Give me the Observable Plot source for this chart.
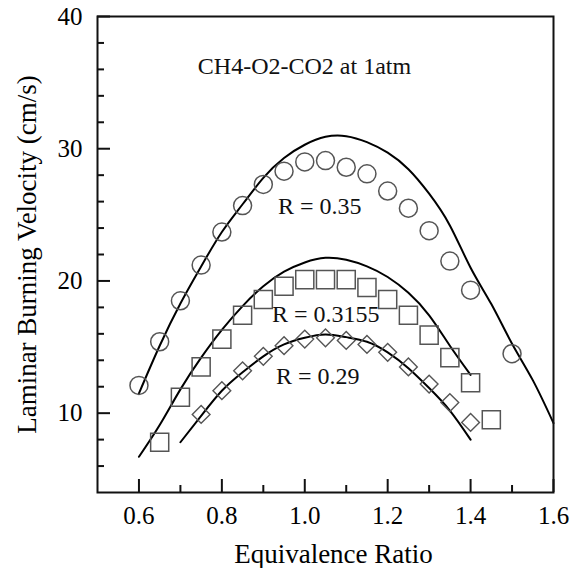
<!DOCTYPE html>
<html>
<head>
<meta charset="utf-8">
<script src="https://cdn.jsdelivr.net/npm/d3@7"></script>
<script src="https://cdn.jsdelivr.net/npm/@observablehq/plot@0.6"></script>
<style>
  html, body { margin: 0; padding: 0; background: #fff; }
  #chart svg { display: block; }
</style>
</head>
<body>
<div id="chart"></div>
<script>
// Measured points (equivalence ratio vs laminar burning velocity, cm/s)
const circleX = [0.6,0.65,0.7,0.75,0.8,0.85,0.9,0.95,1.0,1.05,1.1,1.15,1.2,1.25,1.3,1.35,1.4,1.5];
const circleY = [12.1,15.4,18.5,21.2,23.7,25.7,27.3,28.3,29.0,29.1,28.6,28.1,26.8,25.5,23.8,21.5,19.3,14.5];

const squareX = [0.65,0.7,0.75,0.8,0.85,0.9,0.95,1.0,1.05,1.1,1.15,1.2,1.25,1.3,1.35,1.4,1.45];
const squareY = [7.8,11.2,13.5,15.6,17.4,18.6,19.6,20.1,20.1,20.1,19.5,18.6,17.4,15.9,14.2,12.3,9.5];

const diamondX = [0.75,0.8,0.85,0.9,0.95,1.0,1.05,1.1,1.15,1.2,1.25,1.3,1.35,1.4];
const diamondY = [9.9,11.7,13.2,14.3,15.1,15.6,15.7,15.5,15.2,14.6,13.5,12.2,10.8,9.3];

// Computed curves
const line35X = [0.6,0.65,0.7,0.75,0.8,0.85,0.9,0.95,1.0,1.05,1.1,1.15,1.2,1.25,1.3,1.35,1.4,1.45,1.5,1.55,1.6];
const line35Y = [11.5,15.1,18.3,21.1,23.7,25.8,27.8,29.3,30.3,30.9,30.95,30.5,29.7,28.45,26.6,24.2,21.0,18.25,15.25,12.5,9.25];

const line3155X = [0.6,0.65,0.7,0.75,0.8,0.85,0.9,0.95,1.0,1.05,1.1,1.15,1.2,1.25,1.3,1.35,1.4];
const line3155Y = [6.7,9.1,11.8,14.2,16.3,18.1,19.6,20.7,21.4,21.75,21.6,21.1,20.3,19.1,17.4,15.1,12.9];

const line29X = [0.7,0.75,0.8,0.85,0.9,0.95,1.0,1.05,1.1,1.15,1.2,1.25,1.3,1.35,1.4];
const line29Y = [7.8,9.8,11.7,13.1,14.3,15.2,15.7,15.95,15.75,15.4,14.6,13.4,11.9,10.2,8.0];

// Axis ticks
const xMajor = [0.6,0.8,1.0,1.2,1.4,1.6];
const xMinor = [0.7,0.9,1.1,1.3,1.5];
const yMajor = [10,20,30,40];
const yMinor = [6,8,12,14,16,18,22,24,26,28,32,34,36,38];

// Text
const annotations = [
  {x: 0.742, y: 35.68, text: "CH4-O2-CO2 at 1atm"},
  {x: 0.9355, y: 25.08, text: "R = 0.35"},
  {x: 0.921, y: 16.89, text: "R = 0.3155"},
  {x: 0.9307, y: 12.2, text: "R = 0.29"}
];
const xTitle = "Equivalence Ratio";
const yTitle = "Laminar Burning Velocity (cm/s)";

const zip = (xs, ys) => xs.map((x, i) => ({x, y: ys[i]}));

const W = 577, H = 568;
const mL = 97, mR = 24, mT = 16, mB = 76;
const plotW = W - mL - mR, plotH = H - mT - mB;
const font = "'Liberation Serif', 'Times New Roman', Times, serif";
const markerStroke = "#555";
const tickStyle = {stroke: "#111", strokeWidth: 2};

const chart = Plot.plot({
  width: W,
  height: H,
  marginLeft: mL,
  marginRight: mR,
  marginTop: mT,
  marginBottom: mB,
  style: {fontFamily: font},
  x: {domain: [0.5, 1.6]},
  y: {domain: [4, 40]},
  marks: [
    // tick labels
    Plot.axisX(xMajor, {anchor: "bottom", tickSize: 0, tickPadding: 14, tickFormat: d3.format(".1f"), fontSize: 25, label: null, fill: "#000"}),
    Plot.axisY(yMajor, {anchor: "left", tickSize: 0, tickPadding: 15, tickFormat: d3.format("d"), fontSize: 25, label: null, fill: "#000"}),
    // curves
    Plot.line(zip(line35X, line35Y), {x: "x", y: "y", curve: "natural", stroke: "#000", strokeWidth: 2}),
    Plot.line(zip(line3155X, line3155Y), {x: "x", y: "y", curve: "natural", stroke: "#000", strokeWidth: 2}),
    Plot.line(zip(line29X, line29Y), {x: "x", y: "y", curve: "natural", stroke: "#000", strokeWidth: 2}),
    // measured points
    Plot.dot(zip(circleX, circleY), {x: "x", y: "y", symbol: "circle", r: 9, stroke: markerStroke, strokeWidth: 1.5, fill: "none"}),
    Plot.dot(zip(squareX, squareY), {x: "x", y: "y", symbol: "square", r: 10.2, stroke: markerStroke, strokeWidth: 1.5, fill: "none"}),
    Plot.dot(zip(diamondX, diamondY), {x: "x", y: "y", symbol: "diamond2", r: 8, stroke: markerStroke, strokeWidth: 1.4, fill: "none"}),
    // annotations
    Plot.text(annotations, {x: "x", y: "y", text: "text", textAnchor: "start", lineAnchor: "bottom", fontSize: 24, fill: "#111"}),
    // axis titles
    Plot.text([xTitle], {frameAnchor: "bottom", dy: 70, dx: 8, textAnchor: "middle", lineAnchor: "bottom", fontSize: 27, fill: "#000"}),
    Plot.text([yTitle], {frameAnchor: "left", rotate: -90, dx: -62, textAnchor: "middle", lineAnchor: "bottom", fontSize: 27, fill: "#000"}),
    Plot.frame({stroke: "#111", strokeWidth: 2}),
    // inward ticks
    Plot.ruleX(xMajor, {x: d => d, insetTop: plotH - 13, ...tickStyle}),
    Plot.ruleX(xMinor, {x: d => d, insetTop: plotH - 7, ...tickStyle}),
    Plot.ruleY(yMajor, {y: d => d, insetRight: plotW - 13, ...tickStyle}),
    Plot.ruleY(yMinor, {y: d => d, insetRight: plotW - 7, ...tickStyle})
  ]
});

document.getElementById("chart").appendChild(chart);
</script>
</body>
</html>
